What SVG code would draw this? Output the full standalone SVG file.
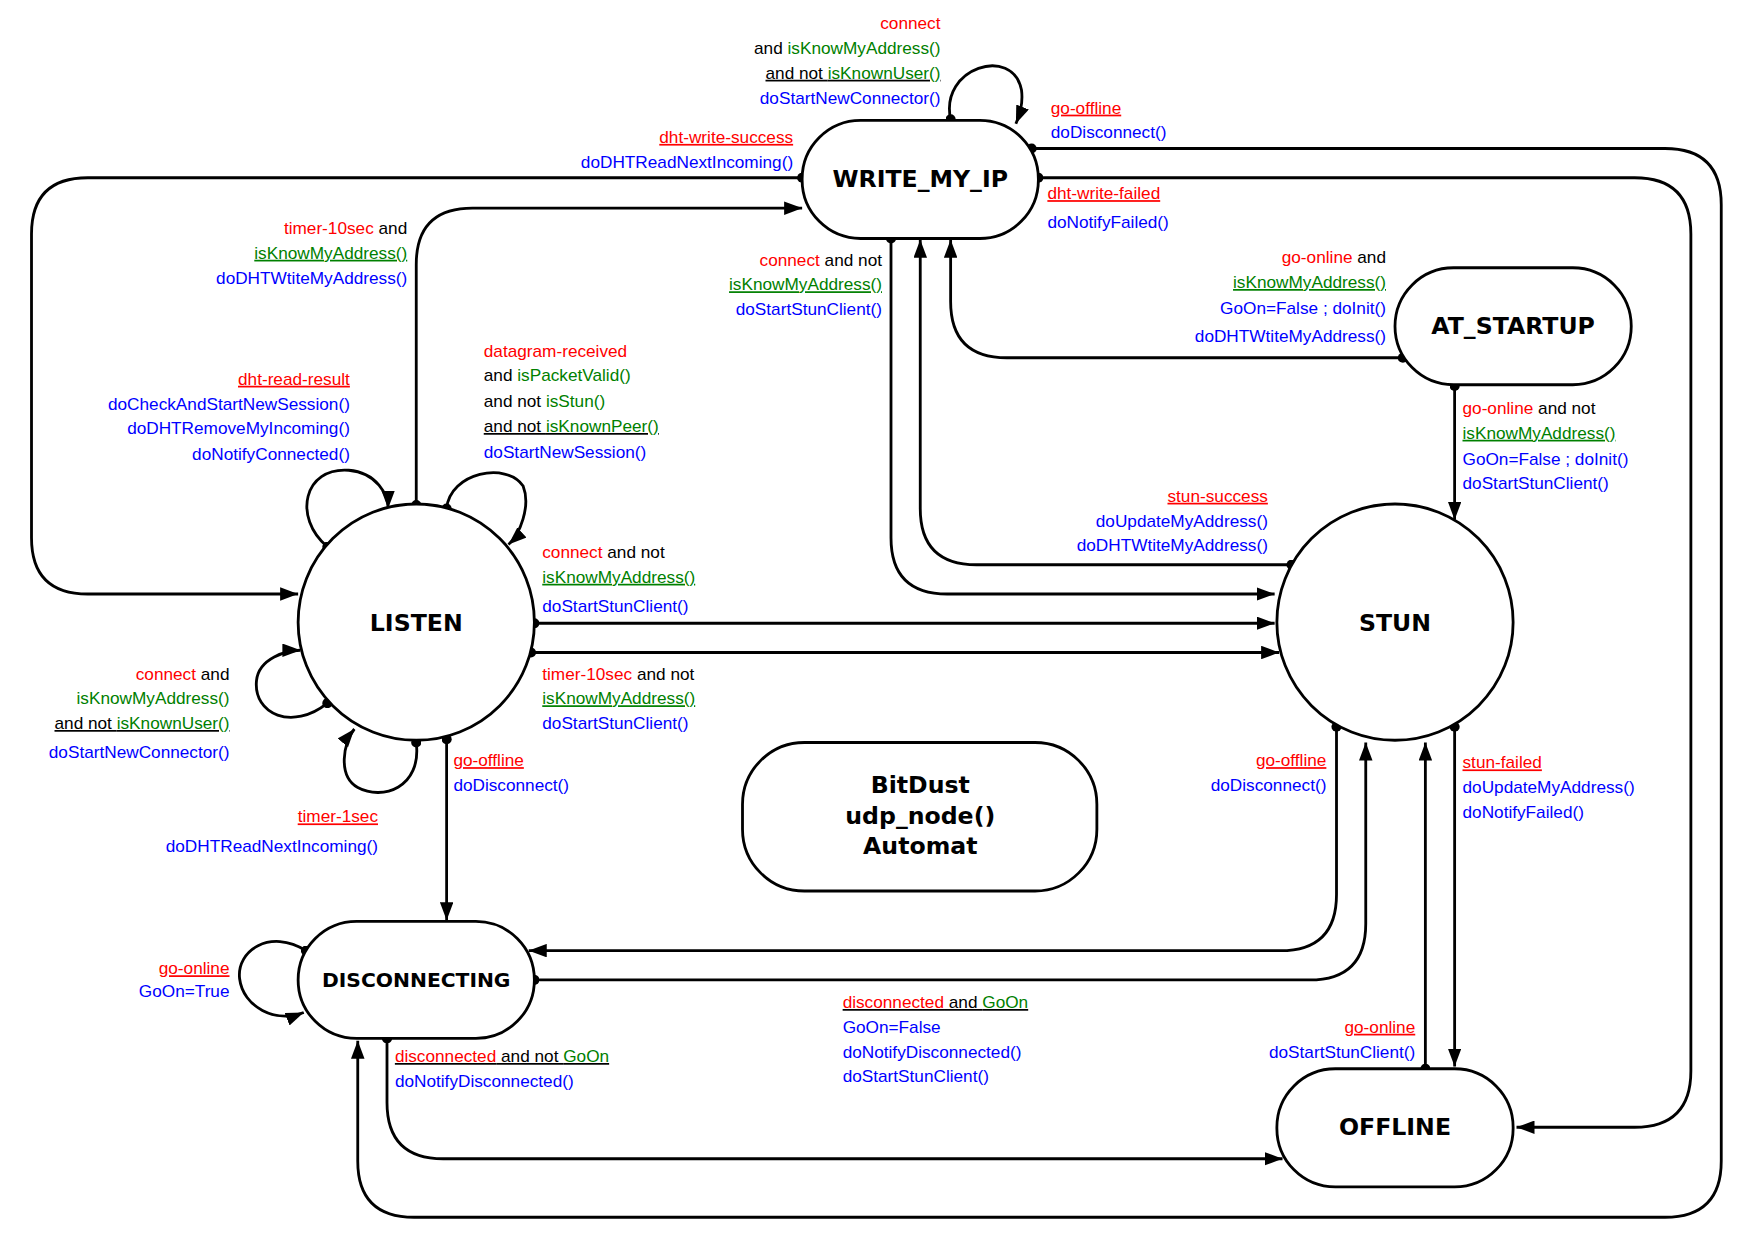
<svg xmlns="http://www.w3.org/2000/svg" width="1755" height="1242" viewBox="0 0 1755 1242">
<style>
.n{fill:#fff;stroke:#000;stroke-width:2.5}
.nt{font-family:"DejaVu Sans","Liberation Sans",sans-serif;font-weight:bold;font-size:21px;text-anchor:middle}
.c{fill:none;stroke:#000;stroke-width:2.5}
text{font-family:"Liberation Sans Narrow","Liberation Sans",sans-serif;font-size:15.3px}
.r{fill:#f00}.g{fill:#008000}.b{fill:#00f}.k{fill:#000}
.e{text-anchor:end}
.u{text-decoration:underline}
</style>
<defs>
<marker id="ar" viewBox="0 0 16 12" refX="16" refY="6" markerWidth="16" markerHeight="12" markerUnits="userSpaceOnUse" orient="auto"><path d="M0,0L16,6L0,12z"/></marker>
<marker id="d" viewBox="0 0 10 10" refX="5" refY="5" markerWidth="9" markerHeight="9" markerUnits="userSpaceOnUse"><circle cx="5" cy="5" r="5"/></marker>
</defs>
<rect width="1755" height="1242" fill="#fff"/>
<g transform="scale(1.125)">
<g id="connectors" class="c" marker-start="url(#d)" marker-end="url(#ar)">
<path d="M845,106 C835,60 900,40 908,80 C910,95 905,105 903,110"/>
<path d="M917,132 H1480 Q1530,132 1530,182 V1032 Q1530,1082 1480,1082 H368 Q318,1082 318,1032 V925"/>
<path d="M923,158 H1453 Q1503,158 1503,208 V952 Q1503,1002 1453,1002 H1348"/>
<path d="M713,158 H78 Q28,158 28,208 V478 Q28,528 78,528 H265"/>
<path d="M370,449 V235 Q370,185 420,185 H713"/>
<path d="M792,212 V478 Q792,528 842,528 H1133"/>
<path d="M1148,502 H868 Q818,502 818,452 V213"/>
<path d="M1247,318 H895 Q845,318 845,268 V213"/>
<path d="M1293,343 V462"/>
<path d="M475,554 H1133"/>
<path d="M472,580 H1137"/>
<path d="M291,486 C260,460 270,415 310,418 C335,420 345,440 345,452"/>
<path d="M397,452 C400,420 450,410 465,432 C472,450 462,475 452,484"/>
<path d="M291,625 C260,650 225,635 228,605 C230,585 255,578 267,578"/>
<path d="M370,660 C375,700 340,712 318,700 C300,690 305,660 315,648"/>
<path d="M397,657 V818"/>
<path d="M1188,646 V795 Q1188,845 1138,845 H470"/>
<path d="M475,871 H1164 Q1214,871 1214,821 V660"/>
<path d="M1267,950 V660"/>
<path d="M1293,646 V948"/>
<path d="M344,923 V980 Q344,1030 394,1030 H1140"/>
<path d="M272,845 C240,825 210,845 213,870 C216,895 245,910 270,900"/>
</g>
<g id="WRITE_MY_IP"><rect class="n" x="713" y="107" width="210" height="105" rx="52"/><text class="nt" x="818" y="166">WRITE_MY_IP</text></g>
<g id="AT_STARTUP"><rect class="n" x="1240" y="238" width="210" height="104" rx="52"/><text class="nt" x="1345" y="297">AT_STARTUP</text></g>
<g id="LISTEN"><circle class="n" cx="370" cy="553" r="105"/><text class="nt" x="370" y="561">LISTEN</text></g>
<g id="STUN"><circle class="n" cx="1240" cy="553" r="105"/><text class="nt" x="1240" y="561">STUN</text></g>
<g id="DISCONNECTING"><rect class="n" x="265" y="819" width="210" height="104" rx="52"/><text class="nt" x="370" y="877" style="font-size:18px">DISCONNECTING</text></g>
<g id="OFFLINE"><rect class="n" x="1135" y="950" width="210" height="105" rx="52"/><text class="nt" x="1240" y="1009">OFFLINE</text></g>
<g id="title"><rect class="n" x="660" y="660" width="315" height="132" rx="55"/><text class="nt" x="818" y="705">BitDust</text><text class="nt" x="818" y="732">udp_node()</text><text class="nt" x="818" y="759">Automat</text></g>
<g id="labels">
<text class="e r" x="836" y="26">connect</text>
<text class="e" x="836" y="48"><tspan class="k">and </tspan><tspan class="g">isKnowMyAddress()</tspan></text>
<text class="e u" x="836" y="70"><tspan class="k">and not </tspan><tspan class="g">isKnownUser()</tspan></text>
<text class="e b" x="836" y="92">doStartNewConnector()</text>
<text class="r u" x="934" y="101">go-offline</text>
<text class="b" x="934" y="123">doDisconnect()</text>
<text class="e r u" x="705" y="127">dht-write-success</text>
<text class="e b" x="705" y="149">doDHTReadNextIncoming()</text>
<text class="r u" x="931" y="177">dht-write-failed</text>
<text class="b" x="931" y="203">doNotifyFailed()</text>
<text class="e" x="362" y="208"><tspan class="r">timer-10sec</tspan><tspan class="k"> and</tspan></text>
<text class="e g u" x="362" y="230">isKnowMyAddress()</text>
<text class="e b" x="362" y="252">doDHTWtiteMyAddress()</text>
<text class="e" x="784" y="236"><tspan class="r">connect</tspan><tspan class="k"> and not</tspan></text>
<text class="e g u" x="784" y="258">isKnowMyAddress()</text>
<text class="e b" x="784" y="280">doStartStunClient()</text>
<text class="e" x="1232" y="234"><tspan class="r">go-online</tspan><tspan class="k"> and</tspan></text>
<text class="e g u" x="1232" y="256">isKnowMyAddress()</text>
<text class="e b" x="1232" y="279">GoOn=False ; doInit()</text>
<text class="e b" x="1232" y="304">doDHTWtiteMyAddress()</text>
<text class="r" x="430" y="317">datagram-received</text>
<text x="430" y="339"><tspan class="k">and </tspan><tspan class="g">isPacketValid()</tspan></text>
<text x="430" y="362"><tspan class="k">and not </tspan><tspan class="g">isStun()</tspan></text>
<text class="u" x="430" y="384"><tspan class="k">and not </tspan><tspan class="g">isKnownPeer()</tspan></text>
<text class="b" x="430" y="407">doStartNewSession()</text>
<text class="e r u" x="311" y="342">dht-read-result</text>
<text class="e b" x="311" y="364">doCheckAndStartNewSession()</text>
<text class="e b" x="311" y="386">doDHTRemoveMyIncoming()</text>
<text class="e b" x="311" y="409">doNotifyConnected()</text>
<text x="1300" y="368"><tspan class="r">go-online</tspan><tspan class="k"> and not</tspan></text>
<text class="g u" x="1300" y="390">isKnowMyAddress()</text>
<text class="b" x="1300" y="413">GoOn=False ; doInit()</text>
<text class="b" x="1300" y="435">doStartStunClient()</text>
<text class="e r u" x="1127" y="446">stun-success</text>
<text class="e b" x="1127" y="468">doUpdateMyAddress()</text>
<text class="e b" x="1127" y="490">doDHTWtiteMyAddress()</text>
<text x="482" y="496"><tspan class="r">connect</tspan><tspan class="k"> and not</tspan></text>
<text class="g u" x="482" y="518">isKnowMyAddress()</text>
<text class="b" x="482" y="544">doStartStunClient()</text>
<text x="482" y="604"><tspan class="r">timer-10sec</tspan><tspan class="k"> and not</tspan></text>
<text class="g u" x="482" y="626">isKnowMyAddress()</text>
<text class="b" x="482" y="648">doStartStunClient()</text>
<text class="e" x="204" y="604"><tspan class="r">connect</tspan><tspan class="k"> and</tspan></text>
<text class="e g" x="204" y="626">isKnowMyAddress()</text>
<text class="e u" x="204" y="648"><tspan class="k">and not </tspan><tspan class="g">isKnownUser()</tspan></text>
<text class="e b" x="204" y="674">doStartNewConnector()</text>
<text class="r u" x="403" y="681">go-offline</text>
<text class="b" x="403" y="703">doDisconnect()</text>
<text class="e r u" x="336" y="731">timer-1sec</text>
<text class="e b" x="336" y="757">doDHTReadNextIncoming()</text>
<text class="e r u" x="1179" y="681">go-offline</text>
<text class="e b" x="1179" y="703">doDisconnect()</text>
<text class="r u" x="1300" y="683">stun-failed</text>
<text class="b" x="1300" y="705">doUpdateMyAddress()</text>
<text class="b" x="1300" y="727">doNotifyFailed()</text>
<text class="e r u" x="204" y="866">go-online</text>
<text class="e b" x="204" y="886">GoOn=True</text>
<text class="u" x="749" y="896"><tspan class="r">disconnected</tspan><tspan class="k"> and </tspan><tspan class="g">GoOn</tspan></text>
<text class="b" x="749" y="918">GoOn=False</text>
<text class="b" x="749" y="940">doNotifyDisconnected()</text>
<text class="b" x="749" y="962">doStartStunClient()</text>
<text class="e r u" x="1258" y="918">go-online</text>
<text class="e b" x="1258" y="940">doStartStunClient()</text>
<text class="u" x="351" y="944"><tspan class="r">disconnected</tspan><tspan class="k"> and not </tspan><tspan class="g">GoOn</tspan></text>
<text class="b" x="351" y="966">doNotifyDisconnected()</text>
</g>
</g>
</svg>
